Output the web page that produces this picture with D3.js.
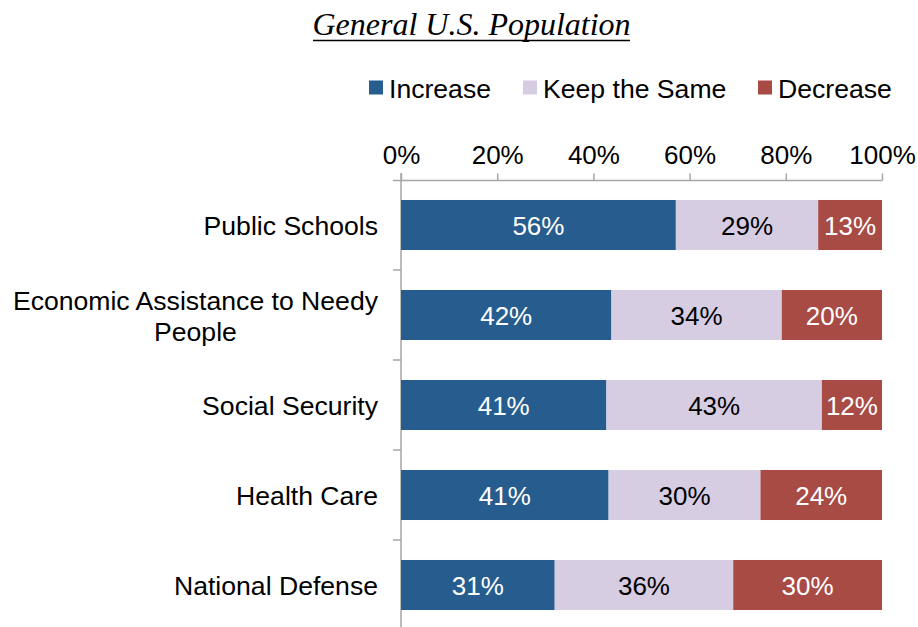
<!DOCTYPE html>
<html><head><meta charset="utf-8">
<script src="https://cdn.jsdelivr.net/npm/d3@7"></script>
<style>body{margin:0;background:#fff}svg{display:block}</style>
</head><body>
<script>
const categories = ["Public Schools", "Economic Assistance to Needy People", "Social Security", "Health Care", "National Defense"];
const categoryLines = [["Public Schools"], ["Economic Assistance to Needy", "People"], ["Social Security"], ["Health Care"], ["National Defense"]];
const seriesNames = ["Increase", "Keep the Same", "Decrease"];
const increase = [56, 42, 41, 41, 31];
const keepSame = [29, 34, 43, 30, 36];
const decrease = [13, 20, 12, 24, 30];
const tickValues = [0, 0.2, 0.4, 0.6, 0.8, 1.0];
const colors = ["#275D8E", "#D6CDE2", "#A84B45"];
const textColors = ["#fff", "#000", "#fff"];

const W = 918, H = 627;
const svg = d3.select("body").append("svg").attr("width", W).attr("height", H);
const font = "'Liberation Sans', Arial, sans-serif";

// title
svg.append("text").attr("x", 471.5).attr("y", 35).attr("text-anchor", "middle")
  .attr("font-family", "'Liberation Serif', 'Times New Roman', serif").attr("font-style", "italic")
  .attr("font-size", 32).attr("fill", "#000").text("General U.S. Population");
svg.append("line").attr("x1", 313).attr("x2", 630).attr("y1", 40.5).attr("y2", 40.5)
  .attr("stroke", "#000").attr("stroke-width", 1.3);

const x = d3.scaleLinear().domain([0, 1]).range([401, 882]);
const y = d3.scaleBand().domain(categories).range([180, 630]).paddingInner(0.444).paddingOuter(0.222);

// legend
const legendX = [369, 523, 758];
seriesNames.forEach((s, i) => {
  svg.append("rect").attr("x", legendX[i]).attr("y", 80.5).attr("width", 14).attr("height", 14).attr("fill", colors[i]);
  svg.append("text").attr("x", legendX[i] + 20).attr("y", 98).attr("font-family", font).attr("font-size", 26.6)
    .attr("fill", "#000").text(s);
});

// top axis
const ax = svg.append("g").attr("transform", "translate(0,180.5)")
  .call(d3.axisTop(x).tickValues(tickValues).tickSize(7).tickPadding(10).tickFormat(d3.format(".0%")));
ax.select(".domain").remove();
ax.selectAll(".tick line").attr("stroke", "#A6A6A6").attr("stroke-width", 1.5);
ax.selectAll(".tick text").attr("font-family", font).attr("font-size", 26).attr("fill", "#000");
svg.append("line").attr("x1", 393).attr("x2", x(1) + 0.5).attr("y1", 180.5).attr("y2", 180.5)
  .attr("stroke", "#A6A6A6").attr("stroke-width", 1.5);

// left axis line and boundary ticks
svg.append("line").attr("x1", x(0)).attr("x2", x(0)).attr("y1", 173).attr("y2", 630)
  .attr("stroke", "#A6A6A6").attr("stroke-width", 1.5);
const step = y.step();
categories.forEach((c) => {
  const yb = y(c) + y.bandwidth() + step * y.paddingInner() / 2;
  svg.append("line").attr("x1", 393).attr("x2", x(0)).attr("y1", yb).attr("y2", yb)
    .attr("stroke", "#A6A6A6").attr("stroke-width", 1.5);
});

// category labels
categories.forEach((c, i) => {
  const lines = categoryLines[i];
  const cy = y(c) + y.bandwidth() / 2 + 1;
  const lh = 31;
  const g = svg.append("g");
  const texts = lines.map((l, j) => g.append("text").attr("y", cy + (j - (lines.length - 1) / 2) * lh)
      .attr("dy", "0.35em").attr("text-anchor", "middle").attr("font-family", font).attr("font-size", 26.6)
      .attr("fill", "#000").text(l));
  const maxW = d3.max(texts, t => t.node().getComputedTextLength());
  texts.forEach(t => t.attr("x", 378 - maxW / 2));
});

// bars
const series = [increase, keepSame, decrease];
categories.forEach((c, i) => {
  const total = increase[i] + keepSame[i] + decrease[i];
  let acc = 0;
  series.forEach((arr, k) => {
    const v = arr[i];
    const x0 = x(acc / total), x1 = x((acc + v) / total);
    svg.append("rect").attr("x", x0).attr("y", y(c)).attr("width", x1 - x0).attr("height", y.bandwidth())
      .attr("fill", colors[k]);
    svg.append("text").attr("x", (x0 + x1) / 2).attr("y", y(c) + y.bandwidth() / 2 + 1).attr("dy", "0.35em")
      .attr("text-anchor", "middle").attr("font-family", font).attr("font-size", 26)
      .attr("fill", textColors[k]).text(v + "%");
    acc += v;
  });
});
</script>
</body></html>
